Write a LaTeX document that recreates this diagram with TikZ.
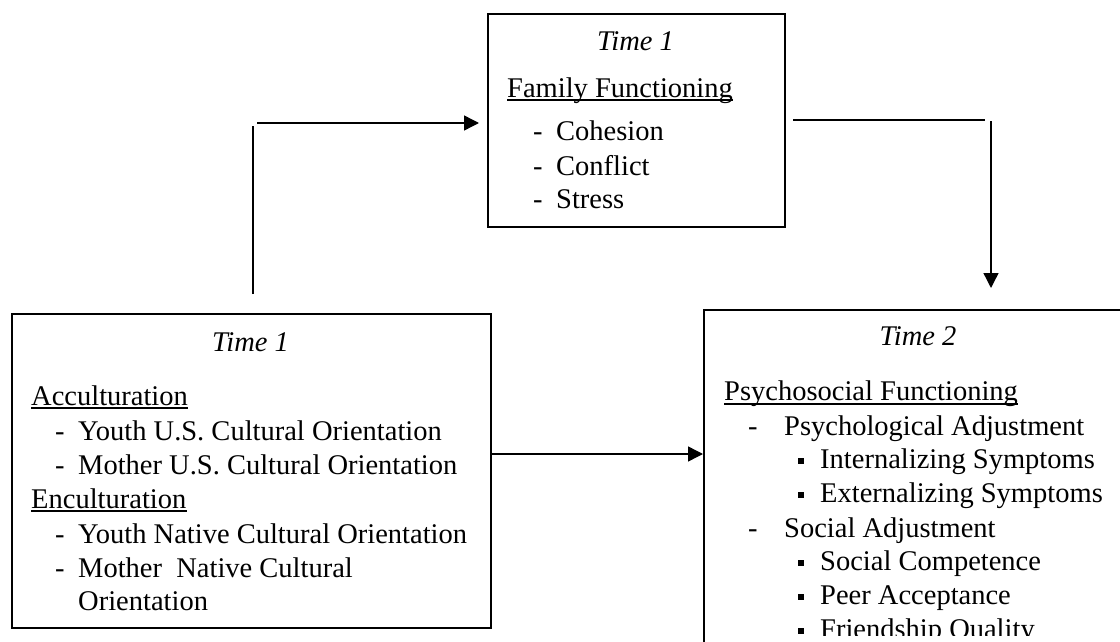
\documentclass[tikz,border=0pt]{standalone}
\usepackage{fontspec}
\setmainfont{Liberation Serif}
\usetikzlibrary{arrows.meta}
\begin{document}
\begin{tikzpicture}[x=1pt,y=-1pt,
  box/.style={draw, line width=1.7pt, inner sep=0pt, anchor=north west},
  txt/.style={anchor=base west, inner sep=0pt, font=\fontsize{28.5}{34}\selectfont},
  ttl/.style={anchor=base, inner sep=0pt, font=\fontsize{28.5}{34}\selectfont\itshape},
  ul/.style={line width=1.4pt},
  conn/.style={line width=1.4pt},
  arr/.style={conn, -{Triangle[length=15pt,width=15pt]}},
  bul/.style={fill, inner sep=0pt, minimum size=6pt, anchor=south west}
]
\useasboundingbox (0,0) rectangle (1120,642);
\clip (0,0) rectangle (1120,642);

% ---- boxes ----
\node[box, minimum width=297pt, minimum height=213pt] (fam) at (487,13) {};
\node[box, minimum width=479pt, minimum height=314pt] (cult) at (11,313) {};
\node[box, minimum width=440pt, minimum height=400pt] (psy) at (703,309) {};

% ---- top box text ----
\node[ttl] (famt) at (635.5,51) {Time 1};
\node[txt] (famh) at (507,97) {Family Functioning};
\draw[ul] ([yshift=-3pt]famh.base west) -- ([yshift=-3pt]famh.base east);
\node[txt] (fd1) at (533,140) {-};
\node[txt] (f1) at (556,140) {Cohesion};
\node[txt] (fd2) at (533,175) {-};
\node[txt] (f2) at (556,175) {Conflict};
\node[txt] (fd3) at (533,208) {-};
\node[txt] (f3) at (556,208) {Stress};

% ---- left box text ----
\node[ttl] (cultt) at (250.5,351) {Time 1};
\node[txt] (acc) at (31,405) {Acculturation};
\draw[ul] ([yshift=-3pt]acc.base west) -- ([yshift=-3pt]acc.base east);
\node[txt] (cd1) at (55,440) {-};
\node[txt] (c1) at (78,440) {Youth U.S. Cultural Orientation};
\node[txt] (cd2) at (55,474) {-};
\node[txt] (c2) at (78,474) {Mother U.S. Cultural Orientation};
\node[txt] (enc) at (31,508) {Enculturation};
\draw[ul] ([yshift=-3pt]enc.base west) -- ([yshift=-3pt]enc.base east);
\node[txt] (cd3) at (55,543) {-};
\node[txt] (c3) at (78,543) {Youth Native Cultural Orientation};
\node[txt] (cd4) at (55,577) {-};
\node[txt] (c4) at (78,577) {Mother\ \ Native Cultural};
\node[txt] (c4b) at (78,610) {Orientation};

% ---- right box text ----
\node[ttl] (psyt) at (918,345) {Time 2};
\node[txt] (psyh) at (724,400) {Psychosocial Functioning};
\draw[ul] ([yshift=-4pt]psyh.base west) -- ([yshift=-4pt]psyh.base east);
\node[txt] (pd1) at (748,435) {-};
\node[txt] (p1) at (784,435) {Psychological Adjustment};
\node[bul] (pb1) at (798,464) {};
\node[txt] (p11) at (820,468) {Internalizing Symptoms};
\node[bul] (pb2) at (798,498) {};
\node[txt] (p12) at (820,502) {Externalizing Symptoms};
\node[txt] (pd2) at (748,537) {-};
\node[txt] (p2) at (784,537) {Social Adjustment};
\node[bul] (pb3) at (798,566) {};
\node[txt] (p21) at (820,570) {Social Competence};
\node[bul] (pb4) at (798,600) {};
\node[txt] (p22) at (820,604) {Peer Acceptance};
\begin{scope}
  \clip (703,610) rectangle (1120,635);
  \node[bul] (pb5) at (798,634) {};
  \node[txt] (p23) at (820,638) {Friendship Quality};
\end{scope}

% ---- connectors ----
\coordinate (a1) at (253,294);
\coordinate (a2) at (253,126);
\coordinate (a3) at (257,123);
\coordinate (a4) at (479,123);
\draw[conn] (a1) -- (a2);
\draw[arr] (a3) -- (a4);

\coordinate (b1) at (793,120);
\coordinate (b2) at (985,120);
\coordinate (b3) at (991,121);
\coordinate (b4) at (991,288);
\draw[conn] (b1) -- (b2);
\draw[arr] (b3) -- (b4);

\coordinate (m1) at (cult.east |- 0,454);
\draw[arr] (m1) -- (psy.west |- 0,454);
\end{tikzpicture}
\end{document}
